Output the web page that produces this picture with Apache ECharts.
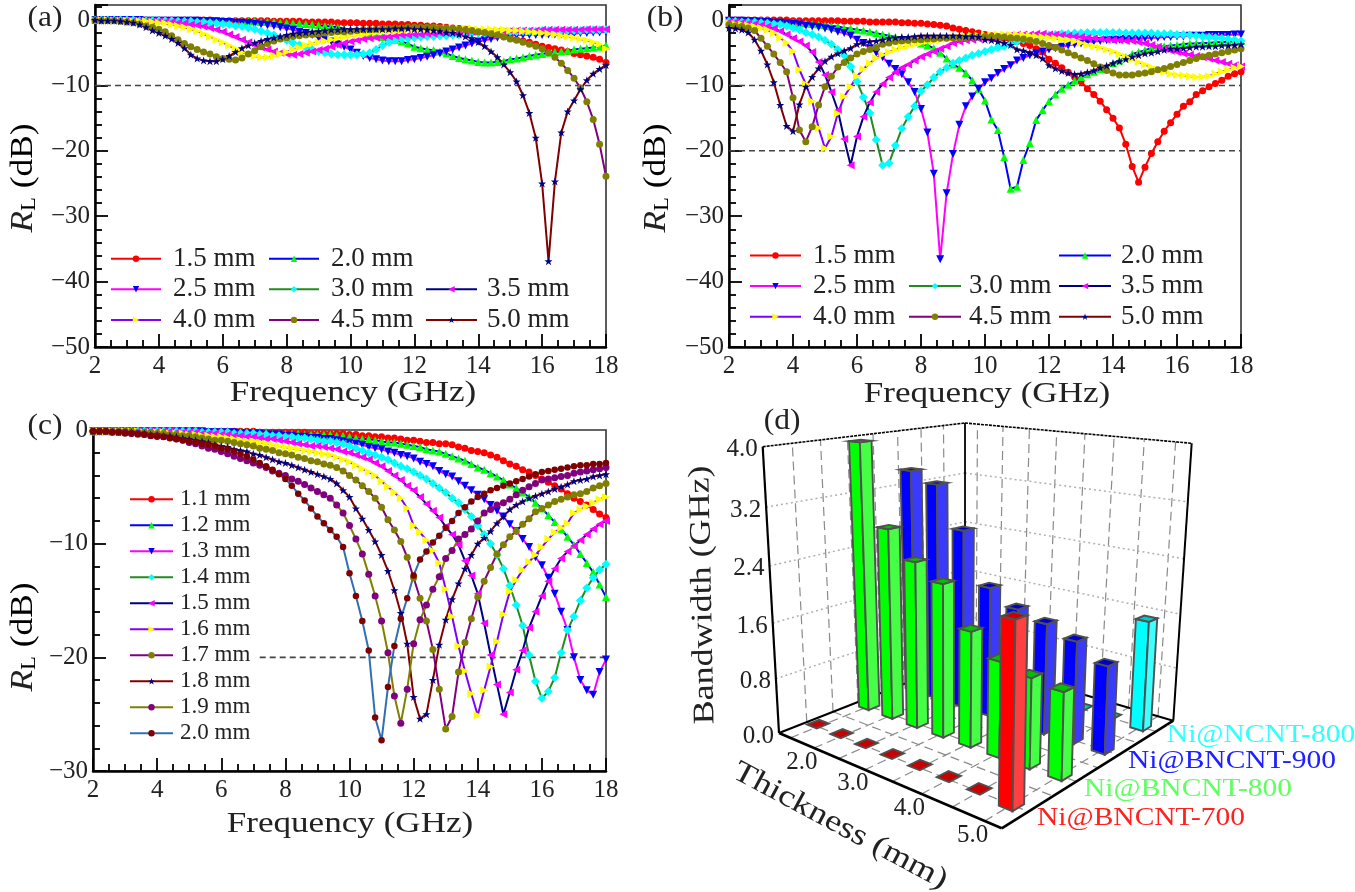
<!DOCTYPE html>
<html><head><meta charset="utf-8">
<style>html,body{margin:0;padding:0;background:#fff}#c{width:1355px;height:892px}</style>
<script src="https://cdn.jsdelivr.net/npm/echarts@6/dist/echarts.min.js"></script>
</head><body><div id="c"></div>
<script>
const freq=[2,2.2,2.4,2.6,2.8,3,3.2,3.4,3.6,3.8,4,4.2,4.4,4.6,4.8,5,5.2,5.4,5.6,5.8,6,6.2,6.4,6.6,6.8,7,7.2,7.4,7.6,7.8,8,8.2,8.4,8.6,8.8,9,9.2,9.4,9.6,9.8,10,10.2,10.4,10.6,10.8,11,11.2,11.4,11.6,11.8,12,12.2,12.4,12.6,12.8,13,13.2,13.4,13.6,13.8,14,14.2,14.4,14.6,14.8,15,15.2,15.4,15.6,15.8,16,16.2,16.4,16.6,16.8,17,17.2,17.4,17.6,17.8,18];
// Panel (a)
const a15=[0,0,0,0,0, 0,0,0,0,0, 0,0,0,0,0, 0,0,0,0,-.1, -.1,-.1,-.1,-.1,-.1, -.1,-.1,-.1,-.2,-.2, -.2,-.2,-.2,-.3,-.3, -.3,-.3,-.3,-.4,-.4, -.4,-.4,-.5,-.5,-.5, -.6,-.6,-.6,-.7,-.7, -.8,-.8,-.9,-.9,-1, -1.1,-1.2,-1.3,-1.4,-1.6, -1.8,-1.9,-2.1,-2.3,-2.5, -2.8,-3,-3.2,-3.4,-3.7, -4,-4.2,-4.4,-4.6,-4.8, -5.1,-5.3,-5.5,-5.7,-6, -6.5];
const a20=[0,0,0,0,0, 0,0,0,0,0, 0,0,0,0,-.1, -.1,-.1,-.1,-.1,-.1, -.1,-.1,-.2,-.2,-.2, -.2,-.3,-.3,-.3,-.4, -.4,-.5,-.5,-.6,-.7, -.8,-.9,-1,-1.1,-1.3, -1.5,-1.7,-1.9,-2.1,-2.4, -2.6,-2.8,-3,-3.3,-3.6, -4.1,-4.3,-4.5,-4.6,-4.8, -5.1,-5.5,-5.8,-6,-6.2, -6.4,-6.5,-6.5,-6.4,-6.3, -6,-5.9,-5.7,-5.5,-5.3, -5.2,-5,-4.9,-4.8,-4.7, -4.5,-4.4,-4.3,-4.2,-4.1, -3.9];
const a25=[0,0,0,0,0, 0,0,0,-.1,-.1, -.1,-.1,-.1,-.1,-.1, -.1,-.1,-.2,-.2,-.2, -.3,-.3,-.4,-.4,-.5, -.6,-.7,-.8,-.9,-1.1, -1.3,-1.5,-1.8,-2,-2.3, -2.7,-3,-3.3,-3.7,-4.1, -4.5,-5,-5.5,-5.8,-6, -6.2,-6.3,-6.3,-6.3,-6.1, -6,-5.8,-5.6,-5.4,-5.1, -4.8,-4.5,-4.2,-3.9,-3.6, -3.3,-3.1,-2.9,-2.7,-2.5, -2.4,-2.3,-2.3,-2.3,-2.3, -2.3,-2.2,-2.2,-2.2,-2.1, -2.1,-2,-2,-1.9,-1.9, -1.8];
const a30=[0,0,0,0,0, 0,0,-.1,-.1,-.1, -.1,-.1,-.1,-.2,-.2, -.2,-.3,-.3,-.4,-.5, -.6,-.7,-.9,-1,-1.2, -1.4,-1.7,-2,-2.3,-2.7, -3.1,-3.5,-3.8,-4.2,-4.5, -4.8,-5,-5.2,-5.3,-5.3, -5.3,-5.3,-5.2,-5,-4.5, -3.9,-3.4,-3.1,-2.9,-2.8, -2.7,-2.6,-2.5,-2.5,-2.4, -2.4,-2.3,-2.3,-2.2,-2.1, -2,-2,-1.9,-1.9,-1.8, -1.8,-1.8,-1.7,-1.7,-1.7, -1.6,-1.6,-1.6,-1.6,-1.6, -1.6,-1.6,-1.5,-1.5,-1.5, -1.5];
const a35=[0,0,0,0,-.1, -.1,-.1,-.1,-.1,-.2, -.2,-.3,-.3,-.4,-.5, -.7,-.8,-1,-1.2,-1.5, -1.8,-2.2,-2.6,-3,-3.4, -3.8,-4.2,-4.5,-4.8,-5, -5.2,-5.3,-5.2,-5,-4.8, -4.6,-4.4,-4.1,-3.8,-3.5, -3.3,-3.1,-2.9,-2.8,-2.7, -2.6,-2.5,-2.4,-2.3,-2.3, -2.2,-2.2,-2.1,-2.1,-2, -2,-1.9,-1.9,-1.8,-1.8, -1.7,-1.7,-1.7,-1.7,-1.7, -1.6,-1.6,-1.6,-1.6,-1.6, -1.5,-1.5,-1.5,-1.5,-1.5, -1.5,-1.5,-1.4,-1.4,-1.4, -1.4];
const a40=[0,0,0,-.1,-.1, -.1,-.2,-.2,-.2,-.3, -.4,-.5,-.7,-.9,-1.1, -1.4,-1.7,-2.1,-2.5,-3, -3.4,-3.9,-4.4,-4.9,-5.2, -5.5,-5.7,-5.7,-5.5,-5.2, -4.9,-4.5,-4.2,-3.9,-3.6, -3.4,-3.2,-3,-2.8,-2.6, -2.4,-2.3,-2.2,-2,-1.9, -1.8,-1.7,-1.7,-1.6,-1.5, -1.5,-1.4,-1.4,-1.4,-1.3, -1.3,-1.3,-1.3,-1.3,-1.3, -1.4,-1.4,-1.4,-1.5,-1.5, -1.6,-1.6,-1.7,-1.8,-1.9, -2,-2.1,-2.2,-2.4,-2.5, -2.7,-2.9,-3.1,-3.4,-3.7, -4.4];
const a45=[0,-.1,-.1,-.1,-.2, -.3,-.4,-.6,-.9,-1.1, -1.4,-1.8,-2.4,-3,-3.6, -4.1,-4.5,-4.9,-5.2,-5.6, -5.9,-6,-6.1,-5.8,-5.2, -4.7,-4.1,-3.6,-3.2,-2.9, -2.7,-2.5,-2.4,-2.3,-2.2, -2.1,-2,-1.9,-1.8,-1.8, -1.7,-1.6,-1.5,-1.5,-1.4, -1.3,-1.3,-1.2,-1.2,-1.1, -1.1,-1.1,-1.1,-1.1,-1.2, -1.2,-1.3,-1.4,-1.5,-1.6, -1.8,-1.9,-2.1,-2.3,-2.6, -2.9,-3.1,-3.4,-3.7,-4, -4.4,-5,-5.7,-6.6,-7.7, -8.9,-10.4,-12.5,-15.2,-19, -23.9];
const a50=[0,-.1,-.1,-.1,-.2, -.3,-.4,-.7,-1.1,-1.6, -2,-2.4,-2.9,-3.5,-4.3, -5.3,-5.9,-6.2,-6.3,-6.3, -6,-5.5,-4.9,-4.3,-3.9, -3.5,-3.2,-2.9,-2.7,-2.5, -2.3,-2.1,-2,-1.9,-1.8, -1.7,-1.6,-1.5,-1.5,-1.4, -1.4,-1.4,-1.4,-1.4,-1.4, -1.4,-1.4,-1.3,-1.3,-1.3, -1.4,-1.4,-1.5,-1.6,-1.7, -1.9,-2,-2.2,-2.5,-2.8, -3.4,-4,-4.8,-5.7,-6.8, -8,-9.4,-11.5,-14.2,-18, -25,-36.9,-24.7,-17.2,-14, -12.3,-10.6,-9.2,-8.2,-7.5, -6.9];
// Panel (b)
const b15=[0,0,0,0,0, 0,0,0,0,0, -.1,-.1,-.1,-.1,-.1, -.1,-.1,-.1,-.2,-.2, -.2,-.2,-.3,-.3,-.3, -.3,-.3,-.4,-.4,-.5, -.5,-.6,-.7,-.8,-.9, -1.2,-1.4,-1.6,-1.8,-2, -2.2,-2.4,-2.6,-2.8,-3.1, -3.3,-3.6,-3.9,-4.4,-4.9, -6,-6.6,-7.3,-8,-8.7, -9.4,-10.5,-11.4,-12.4,-13.7, -15,-16.5,-19,-22.4,-24.8, -22.5,-20.4,-18.6,-17,-15.7, -14.4,-13.2,-12.5,-11.4,-10.8, -10.2,-9.7,-9.2,-8.6,-8.2, -7.9];
const b20=[-.1,-.1,-.1,-.1,-.2, -.2,-.2,-.3,-.3,-.4, -.4,-.5,-.5,-.6,-.7, -.8,-.9,-1,-1.2,-1.3, -1.5,-1.6,-1.8,-2,-2.2, -2.4,-2.6,-2.8,-3,-3.3, -3.6,-3.9,-4.3,-5,-5.9, -6.8,-7.3,-8.1,-9.2,-10.6, -12.3,-15.2,-16.8,-21,-25.8, -25.5,-21.4,-18.8,-15.3,-13.8, -12.4,-11.4,-10.5,-9.9,-9.3, -8.7,-8.3,-7.9,-7.5,-7.1, -6.6,-6.2,-5.7,-5.2,-4.9, -4.6,-4.3,-4.1,-4,-3.9, -3.8,-3.7,-3.6,-3.6,-3.5, -3.5,-3.4,-3.4,-3.3,-3.3, -3.2];
const b25=[-.1,-.1,-.1,-.2,-.2, -.3,-.3,-.4,-.4,-.5, -.6,-.7,-.9,-1,-1.1, -1.3,-1.5,-1.8,-2,-2.4, -3,-3.5,-4.3,-5,-5.7, -6.7,-7.5,-8.3,-9.5,-11, -13.6,-17.2,-23.5,-36.6,-26.5, -20.5,-16,-13.2,-11.7,-10.5, -9.5,-8.9,-8.1,-7.5,-6.9, -6.2,-5.8,-5.4,-5.1,-4.8, -4.5,-4.3,-4.1,-3.9,-3.7, -3.6,-3.4,-3.3,-3.2,-3.1, -3,-3,-2.9,-2.9,-2.8, -2.8,-2.7,-2.7,-2.6,-2.6, -2.5,-2.5,-2.4,-2.4,-2.4, -2.3,-2.3,-2.3,-2.3,-2.2, -2.2];
const b30=[-.2,-.2,-.3,-.3,-.3, -.4,-.5,-.6,-.7,-.9, -1.2,-1.5,-1.9,-2.2,-2.6, -3.1,-3.7,-4.5,-5.4,-7.1, -9.4,-11.8,-14.2,-18.3,-22.2, -21.9,-19.2,-16.6,-14.8,-13.2, -10.9,-9.9,-8.8,-7.9,-7.3, -6.6,-6.2,-5.8,-5.4,-5.1, -4.8,-4.5,-4.2,-4,-3.7, -3.3,-3,-2.8,-2.6,-2.4, -2.3,-2.2,-2.1,-2.1,-2, -2,-1.9,-1.9,-1.9,-1.9, -1.9,-1.9,-2,-2,-2, -2,-2,-2.1,-2.1,-2.1, -2.2,-2.2,-2.3,-2.4,-2.5, -2.6,-2.7,-2.8,-2.9,-3, -3.2];
const b35=[-.3,-.3,-.4,-.5,-.6, -.8,-1,-1.3,-1.7,-2.2, -2.8,-3.3,-3.9,-4.9,-6.4, -8.4,-11,-13.8,-18.2,-22.2, -17.8,-14.8,-12.6,-11,-9.8, -8.8,-8,-7.3,-6.8,-6.2, -5.6,-5.2,-4.8,-4.4,-4, -3.5,-3.3,-3.1,-3,-2.9, -2.7,-2.6,-2.5,-2.4,-2.3, -2.2,-2.2,-2.2,-2.1,-2.1, -2.2,-2.2,-2.3,-2.4,-2.5, -2.6,-2.7,-2.8,-2.9,-3, -3.1,-3.1,-3.2,-3.2,-3.4, -3.6,-3.8,-4.1,-4.4,-4.7, -4.9,-5.1,-5.3,-5.5,-5.7, -5.9,-6.2,-6.4,-6.7,-6.9, -7.1];
const b40=[-.5,-.6,-.7,-.8,-1, -1.2,-1.5,-2,-2.7,-3.5, -4.8,-7.6,-9.8,-12.4,-16.5, -19.6,-17.8,-14.3,-11.7,-10.2, -8.6,-7.5,-6.6,-5.8,-5.3, -4.9,-4.5,-4.2,-4,-3.7, -3.5,-3.3,-3.2,-3.1,-2.9, -2.7,-2.6,-2.5,-2.4,-2.4, -2.3,-2.3,-2.2,-2.2,-2.2, -2.2,-2.3,-2.4,-2.5,-2.6, -2.7,-2.8,-3,-3.1,-3.3, -3.5,-3.8,-4,-4.2,-4.5, -4.8,-5.2,-5.6,-6,-6.4, -6.8,-7.2,-7.6,-7.9,-8.2, -8.4,-8.5,-8.6,-8.7,-8.7, -8.6,-8.2,-7.9,-7.6,-7.3, -7.1];
const b45=[-.7,-.9,-1,-1.2,-1.6, -2.8,-4,-5.2,-6.5,-7.9, -11.9,-16.8,-18.6,-16.3,-13, -10.2,-8.6,-7.2,-6.5,-5.8, -5.2,-4.8,-4.5,-4.2,-3.7, -3.5,-3.3,-3.2,-3.1,-3, -3,-2.9,-2.9,-2.8,-2.8, -2.7,-2.7,-2.7,-2.6,-2.6, -2.5,-2.5,-2.5,-2.6,-2.7, -2.8,-2.9,-3.1,-3.3,-3.6, -3.9,-4.2,-4.6,-5,-5.4, -5.8,-6.2,-6.7,-7.2,-7.7, -8.1,-8.4,-8.4,-8.4,-8.2, -8.1,-7.9,-7.6,-7.4,-7.1, -6.8,-6.5,-6.2,-5.9,-5.6, -5.4,-5.2,-5,-4.8,-4.6, -4.4];
const b50=[-1.2,-1.3,-1.5,-1.9,-3, -4.7,-6.8,-9.5,-13,-16.2, -17,-12.9,-10.2,-8.7,-7.4, -6.3,-5.6,-5.1,-4.7,-4.3, -3.7,-3.5,-3.3,-3.2,-3, -2.8,-2.7,-2.6,-2.6,-2.5, -2.4,-2.4,-2.4,-2.4,-2.4, -2.4,-2.4,-2.5,-2.5,-2.6, -3,-3.1,-3.3,-3.5,-3.8, -4.5,-4.7,-5,-5.4,-5.9, -6.9,-7.4,-7.8,-8.1,-8.3, -8.2,-8,-7.7,-7.3,-7, -6.6,-6.3,-6,-5.6,-5.4, -5.1,-5,-4.8,-4.6,-4.4, -4.4,-4.3,-4.2,-4.1,-4.1, -4,-4,-3.9,-3.9,-3.8, -3.7];
// Panel (c)
const c11=[-.1,-.1,-.1,-.1,-.1, -.1,-.1,-.1,-.1,-.1, -.1,-.1,-.1,-.1,-.1, -.1,-.1,-.1,-.1,-.1, -.1,-.1,-.1,-.1,-.1, -.1,-.2,-.2,-.2,-.2, -.2,-.2,-.2,-.2,-.3, -.3,-.3,-.3,-.3,-.3, -.4,-.4,-.5,-.5,-.6, -.6,-.7,-.7,-.8,-.9, -.9,-1,-1.1,-1.1,-1.2, -1.2,-1.3,-1.5,-1.6,-1.8, -1.9,-2,-2.2,-2.4,-2.7, -3,-3.2,-3.5,-3.7,-4, -4.3,-4.6,-4.9,-5.2,-5.6, -6,-6.3,-6.6,-7,-7.4, -7.7];
const c12=[-.1,-.1,-.1,-.1,-.1, -.1,-.1,-.1,-.1,-.1, -.1,-.1,-.1,-.1,-.1, -.1,-.1,-.1,-.1,-.1, -.1,-.1,-.2,-.2,-.2, -.2,-.2,-.2,-.3,-.3, -.3,-.3,-.3,-.4,-.4, -.4,-.4,-.4,-.5,-.5, -.6,-.7,-.8,-.8,-.9, -1,-1.1,-1.1,-1.2,-1.3, -1.4,-1.5,-1.7,-1.8,-1.9, -2.1,-2.3,-2.5,-2.7,-3, -3.3,-3.5,-3.8,-4.1,-4.4, -4.8,-5.1,-5.5,-5.9,-6.4, -6.9,-7.5,-8.1,-8.7,-9.4, -10.1,-10.9,-11.7,-12.5,-13.6, -14.7];
const c13=[-.1,-.1,-.1,-.1,-.1, -.1,-.1,-.1,-.1,-.1, -.1,-.1,-.1,-.1,-.1, -.1,-.1,-.1,-.2,-.2, -.2,-.2,-.2,-.3,-.3, -.3,-.3,-.4,-.4,-.4, -.5,-.5,-.6,-.6,-.7, -.7,-.8,-.8,-.9,-1, -1.1,-1.2,-1.3,-1.5,-1.6, -1.7,-1.9,-2,-2.2,-2.3, -2.5,-2.8,-3,-3.2,-3.6, -3.9,-4.1,-4.5,-4.9,-5.3, -5.7,-6.1,-6.6,-7.1,-7.6, -8.3,-8.9,-9.6,-10.3,-11.2, -11.9,-13,-14.4,-16,-17.6, -20,-22,-22.9,-23.3,-21.3, -20.2];
const c14=[-.1,-.1,-.1,-.1,-.1, -.1,-.1,-.1,-.1,-.1, -.1,-.1,-.1,-.1,-.1, -.1,-.1,-.2,-.2,-.2, -.2,-.2,-.3,-.3,-.3, -.3,-.4,-.4,-.5,-.5, -.6,-.6,-.7,-.7,-.8, -.9,-1,-1,-1.1,-1.2, -1.4,-1.6,-1.8,-2,-2.2, -2.4,-2.6,-2.9,-3.2,-3.4, -3.7,-4,-4.3,-4.7,-5.1, -5.5,-6,-6.4,-7,-7.6, -8.4,-9.2,-10,-11,-12.2, -13.7,-15.4,-17.2,-19.8,-22.1, -23.6,-23,-21.8,-19.6,-17.6, -16.4,-15,-13.9,-13,-12.3, -11.8];
const c15=[-.1,-.1,-.1,-.1,-.1, -.1,-.1,-.1,-.1,-.1, -.1,-.1,-.1,-.2,-.2, -.2,-.2,-.3,-.3,-.3, -.4,-.4,-.5,-.5,-.6, -.6,-.7,-.8,-.8,-.9, -1,-1.1,-1.2,-1.3,-1.4, -1.4,-1.5,-1.6,-1.7,-1.9, -2,-2.2,-2.4,-2.6,-2.9, -3.2,-3.6,-4,-4.4,-4.9, -5.3,-5.9,-6.5,-7.1,-7.7, -8.5,-9.2,-10.1,-11.5,-12.8, -14.4,-17,-19.8,-22.4,-25, -23.1,-21.1,-19.4,-17.4,-16, -14.6,-13.3,-12.2,-11.3,-10.7, -10.2,-9.7,-9.2,-8.7,-8.3, -8];
const c16=[-.1,-.1,-.1,-.1,-.1, -.1,-.1,-.1,-.2,-.2, -.2,-.2,-.3,-.3,-.3, -.4,-.4,-.5,-.5,-.6, -.6,-.7,-.8,-.9,-1, -1,-1.1,-1.2,-1.3,-1.4, -1.5,-1.6,-1.7,-1.8,-1.9, -2,-2.1,-2.2,-2.4,-2.6, -2.8,-3.1,-3.4,-3.7,-4, -4.5,-5,-5.5,-6,-6.9, -8.4,-9,-9.7,-10.6,-11.7, -14,-16.4,-19,-21.2,-23.2, -25.1,-22.9,-20.8,-18.6,-16.2, -14.2,-13.2,-12.3,-11.6,-11, -10.3,-9.6,-9,-8.6,-8.2, -7.3,-7,-6.7,-6.4,-6.1, -5.9];
const c17=[-.1,-.1,-.1,-.1,-.1, -.1,-.1,-.2,-.2,-.2, -.3,-.3,-.4,-.4,-.5, -.5,-.6,-.7,-.8,-.9, -.9,-1,-1.1,-1.2,-1.3, -1.4,-1.6,-1.7,-1.8,-2, -2.1,-2.2,-2.4,-2.5,-2.7, -2.8,-3,-3.1,-3.3,-3.6, -4,-4.4,-4.9,-5.4,-6, -6.8,-7.9,-8.8,-9.8,-11.2, -13,-14.8,-16.8,-19.3,-22.8, -26.3,-25.2,-21.3,-18.7,-16.6, -14.7,-13.3,-12.1,-10.9,-10.1, -9.4,-8.9,-8.3,-7.8,-7.2, -6.9,-6.6,-6.3,-6.1,-5.9, -5.7,-5.6,-5.4,-5.1,-4.9, -4.7];
const c18=[-.1,-.1,-.1,-.1,-.2, -.2,-.2,-.3,-.3,-.4, -.4,-.5,-.5,-.6,-.7, -.8,-.9,-1,-1.1,-1.3, -1.4,-1.5,-1.7,-1.8,-1.9, -2.1,-2.2,-2.4,-2.6,-2.8, -2.9,-3.1,-3.3,-3.5,-3.7, -3.9,-4.1,-4.3,-4.7,-5.3, -5.9,-6.9,-7.8,-8.8,-9.8, -11,-12.4,-14.1,-16.1,-18.8, -23.5,-25.4,-25,-22,-18.9, -16.7,-14.9,-13.5,-12.2,-11, -10,-9.5,-8.9,-8.2,-7.6, -7,-6.6,-6.3,-6,-5.8, -5.6,-5.4,-5.2,-5,-4.8, -4.5,-4.4,-4.3,-4.1,-4, -3.9];
const c19=[-.1,-.1,-.1,-.2,-.2, -.2,-.3,-.3,-.4,-.5, -.5,-.6,-.7,-.8,-.9, -1.1,-1.2,-1.4,-1.6,-1.7, -1.9,-2.1,-2.3,-2.5,-2.7, -2.9,-3.1,-3.3,-3.6,-3.8, -4,-4.3,-4.5,-4.8,-5.1, -5.4,-5.7,-6,-6.6,-7.3, -8.4,-9.6,-10.9,-12.7,-14.6, -16.8,-19.6,-23.4,-25.8,-22.8, -18.8,-16.7,-15.4,-14,-12.9, -11.3,-10.6,-9.6,-9.2,-8.7, -8,-7.3,-7,-6.6,-6.4, -6.1,-5.7,-5.3,-5,-4.7, -4.4,-4.3,-4.2,-4.1,-4, -3.8,-3.7,-3.6,-3.5,-3.4, -3.3];
const c20=[-.1,-.1,-.1,-.2,-.2, -.3,-.3,-.4,-.4,-.5, -.6,-.6,-.7,-.8,-.9, -1,-1.1,-1.2,-1.3,-1.4, -1.6,-1.7,-1.9,-2.1,-2.3, -2.6,-2.9,-3.2,-3.5,-3.9, -4.3,-4.9,-5.6,-6.2,-6.9, -7.6,-8.2,-8.8,-9.4,-10.3, -12.6,-14.6,-16.8,-19.4,-25.3, -27.3,-22.6,-19,-16.6,-14.8, -12.8,-11.4,-10.7,-9.9,-9.3, -8.6,-8,-7.3,-6.8,-6.3, -5.9,-5.6,-5.3,-5.1,-4.9, -4.7,-4.5,-4.3,-4.1,-3.9, -3.7,-3.6,-3.5,-3.4,-3.3, -3.2,-3.1,-3.1,-3,-3, -2.9];
// Reference lines
const refA=[[2,-10],[18,-10]];
const refB1=[[2,-10],[18,-10]];
const refB2=[[2,-20],[18,-20]];
const refC=[[7.2,-20],[18,-20]];
// Panel (d): bandwidth in GHz per thickness slot
const thicknessSlots=['1.5','2.0','2.5','3.0','3.5','4.0','4.5','5.0'];
const thicknessTicks=['2.0','3.0','4.0','5.0'];
const heightTicks=[0,0.8,1.6,2.4,3.2,4.0];
const bw700=[0,0,0,0,0,0,0,2.32];
const bw800=[3.96,2.8,2.41,2.19,1.63,1.33,1.23,1.17];
const bw900=[3.45,3.3,2.69,1.93,1.71,1.6,1.46,1.23];
const bwNCNT=[0,0,0,0,0,0,0,1.6];
const sampleNames=['Ni@NCNT-800','Ni@BNCNT-900','Ni@BNCNT-800','Ni@BNCNT-700'];

[freq,a15,a20,a25,a30,a35,a40,a45,a50,b15,b20,b25,b30,b35,b40,b45,b50,c11,c12,c13,c14,c15,c16,c17,c18,c19,c20].forEach((r,i)=>{if(r.length!==81)throw new Error('len '+i+' '+r.length)});

const SERIF='"Liberation Serif"';
const STAR='path://M12 0 L15 9 L24 9 L17 15 L20 24 L12 18 L4 24 L7 15 L0 9 L9 9 Z';
const styles=[
 {line:'#ff0000',mark:'#ff0000',sym:'circle',rot:0,size:7},
 {line:'#0000ff',mark:'#00ff00',sym:'triangle',rot:0,size:8},
 {line:'#ff00ff',mark:'#0000ff',sym:'triangle',rot:180,size:8},
 {line:'#228b22',mark:'#00ffff',sym:'diamond',rot:0,size:9},
 {line:'#000080',mark:'#ff00ff',sym:'triangle',rot:90,size:8},
 {line:'#8000ff',mark:'#ffff00',sym:'triangle',rot:-90,size:8},
 {line:'#800080',mark:'#808000',sym:'circle',rot:0,size:7},
 {line:'#800000',mark:'#000080',sym:STAR,rot:0,size:8},
 {line:'#808000',mark:'#800080',sym:'circle',rot:0,size:7},
 {line:'#3070b0',mark:'#800000',sym:'circle',rot:0,size:6.5}
];
function lineSeries(name,ys,st,idx){
 return {type:'line',name,xAxisIndex:idx,yAxisIndex:idx,data:freq.map((x,i)=>[x,ys[i]]),
  symbol:st.sym,symbolRotate:st.rot,symbolSize:st.size,showSymbol:true,showAllSymbol:true,
  lineStyle:{color:st.line,width:2},itemStyle:{color:st.mark,borderWidth:0},clip:false,silent:true,animation:false};
}
function refSeries(d,idx){
 return {type:'line',data:d,xAxisIndex:idx,yAxisIndex:idx,symbol:'none',silent:true,animation:false,
  lineStyle:{color:'#444',width:1.6,type:[6,4]}};
}
const fmtY=v=>v>0?'':(v<0?'\u2212'+(-v):'0');
function xAx(i){return {gridIndex:i,type:'value',min:2,max:18,interval:2,
  axisLine:{show:true,onZero:false,lineStyle:{color:'#000',width:2.5}},
  axisTick:{show:true,inside:true,length:13,lineStyle:{color:'#000',width:1.8}},
  minorTick:{show:true,splitNumber:4,length:7,lineStyle:{color:'#000',width:1.8}},
  splitLine:{show:false},minorSplitLine:{show:false},
  axisLabel:{fontFamily:SERIF,fontSize:25,color:'#222',margin:7,showMinLabel:true,showMaxLabel:true,hideOverlap:false}};}
function yAx(i,min,max){return {gridIndex:i,type:'value',min,max,interval:10,
  axisLine:{show:true,onZero:false,lineStyle:{color:'#000',width:2.5}},
  axisTick:{show:true,inside:true,length:13,lineStyle:{color:'#000',width:1.8}},
  minorTick:{show:true,splitNumber:5,length:7,lineStyle:{color:'#000',width:1.8}},
  splitLine:{show:false},minorSplitLine:{show:false},
  axisLabel:{fontFamily:SERIF,fontSize:25,color:'#222',margin:5,formatter:fmtY,hideOverlap:false}};}
function legend(names,left,top,fs,w,gap,tg){return {orient:'vertical',data:names,left,top,padding:0,itemWidth:w,itemHeight:8,itemGap:gap,
  selectedMode:false,textStyle:{fontFamily:SERIF,fontSize:fs,lineHeight:fs,color:'#222',padding:[0,0,0,tg]}};}

// ---------- panel (d) projection ----------
function homog(p0,p1,p2,p3){
 const dx1=p1[0]-p2[0],dx2=p3[0]-p2[0],sx=p0[0]-p1[0]+p2[0]-p3[0];
 const dy1=p1[1]-p2[1],dy2=p3[1]-p2[1],sy=p0[1]-p1[1]+p2[1]-p3[1];
 const den=dx1*dy2-dx2*dy1,g=(sx*dy2-dx2*sy)/den,h=(dx1*sy-sx*dy1)/den;
 const a=p1[0]-p0[0]+g*p1[0],b=p3[0]-p0[0]+h*p3[0],c=p0[0];
 const d=p1[1]-p0[1]+g*p1[1],e=p3[1]-p0[1]+h*p3[1],f=p0[1];
 return (u,v)=>{const q=g*u+h*v+1;return [(a*u+b*v+c)/q,(d*u+e*v+f)/q];};
}
const floorH=homog([779,733],[1001.7,828.3],[1173.3,720.7],[965,660]);
const roofH=homog([762.7,446.7],[1006.3,476],[1191.7,443.3],[965,423]);
function proj(u,v,val){
 const w=val/4,f=w/(w+(1-w)*1.07),a=floorH(u,v),b=roofH(u,v);
 return [a[0]+(b[0]-a[0])*f,a[1]+(b[1]-a[1])*f];
}
const colU=i=>(i+.5)/8, rowV=j=>(j+.5)/4;
function frameItem(params,api){
 const P=(u,v,val)=>api.coord(proj(u,v,val));
 const ln=(p,q,stroke,lw,dash)=>({type:'line',shape:{x1:p[0],y1:p[1],x2:q[0],y2:q[1]},style:{stroke,lineWidth:lw,lineDash:dash||null,fill:null}});
 const ch=[];
 const dashC='#8a8a8a',dotC='#b0b0b0';
 for(let k=1;k<8;k++){
  ch.push(ln(P(0,k/8,0),P(0,k/8,4),dashC,1.2,[9,5]));
  ch.push(ln(P(0,k/8,0),P(1,k/8,0),dashC,1.2,[9,5]));
 }
 for(let i=0;i<8;i++){
  ch.push(ln(P(colU(i),1,0),P(colU(i),1,4),dashC,1.2,[9,5]));
  ch.push(ln(P(colU(i),0,0),P(colU(i),1,0),dashC,1.2,[9,5]));
 }
 heightTicks.slice(1,5).forEach(t=>{
  ch.push(ln(P(0,0,t),P(0,1,t),dotC,1.5,[2,3]));
  ch.push(ln(P(0,1,t),P(1,1,t),dotC,1.5,[2,3]));
 });
 ch.push(ln(P(0,0,0),P(0,1,0),'#000',2));
 ch.push(ln(P(0,1,0),P(1,1,0),'#000',2));
 ch.push(ln(P(0,1,0),P(0,1,4),'#000',1.8));
 ch.push(ln(P(0,0,4),P(0,1,4),'#000',1.6,[3,1]));
 ch.push(ln(P(0,1,4),P(1,1,4),'#000',1.6,[3,1]));
 ch.push(ln(P(0,0,0),P(0,0,4),'#000',2.2));
 ch.push(ln(P(1,1,0),P(1,1,4),'#000',2));
 ch.push(ln(P(0,0,0),P(1,0,0),'#000',2.6));
 ch.push(ln(P(1,0,0),P(1,1,0),'#000',2.6));
 const txt=(p,text,al)=>({type:'text',x:p[0],y:p[1],style:{text,fill:'#222',font:'25px '+SERIF,align:al,textAlign:al,verticalAlign:'middle',textVerticalAlign:'middle'}});
 heightTicks.forEach(t=>{const p=P(0,0,t);ch.push(txt([p[0]-5,p[1]+3],t.toFixed(1),'right'));});
 thicknessTicks.forEach(t=>{const p=P(colU(thicknessSlots.indexOf(t)),0,0);ch.push(txt([p[0]-12,p[1]+14],t,'center'));});
 return {type:'group',children:ch};
}
function barSeries(vals,row,c){
 return {type:'custom',xAxisIndex:3,yAxisIndex:3,silent:true,animation:false,clip:false,
  data:vals.map((v,i)=>[i,v]),encode:{x:0,y:1},
  renderItem(params,api){
   const i=api.value(0),val=Math.max(api.value(1),0.04),u=colU(i),v=rowV(row),du=.026,dv=.028;
   const P=(a,b,h)=>api.coord(proj(a,b,h));
   const s={stroke:'#505050',lineWidth:1.9};
   const poly=(pts,fill)=>({type:'polygon',shape:{points:pts},style:Object.assign({fill},s)});
   const ch=[];
   if(api.value(1)>0.04){
    ch.push(poly([P(u-du,v-dv,0),P(u+du,v-dv,0),P(u+du,v-dv,val),P(u-du,v-dv,val)],c[0]));
    ch.push(poly([P(u+du,v-dv,0),P(u+du,v+dv,0),P(u+du,v+dv,val),P(u+du,v-dv,val)],c[1]));
   }
   ch.push(poly([P(u-du,v-dv,val),P(u+du,v-dv,val),P(u+du,v+dv,val),P(u-du,v+dv,val)],c[2]));
   return {type:'group',children:ch};
  }};
}

const namesA=['1.5 mm','2.0 mm','2.5 mm','3.0 mm','3.5 mm','4.0 mm','4.5 mm','5.0 mm'];
const namesC=['1.1 mm','1.2 mm','1.3 mm','1.4 mm','1.5 mm ','1.6 mm','1.7 mm','1.8 mm','1.9 mm','2.0 mm '];
const seriesA=[a15,a20,a25,a30,a35,a40,a45,a50];
const seriesB=[b15,b20,b25,b30,b35,b40,b45,b50];
const seriesC=[c11,c12,c13,c14,c15,c16,c17,c18,c19,c20];

const series=[refSeries(refA,0),refSeries(refB1,1),refSeries(refB2,1),refSeries(refC,2)];
seriesA.forEach((d,i)=>series.push(lineSeries(namesA[i],d,styles[i],0)));
seriesB.forEach((d,i)=>series.push(lineSeries(namesA[i],d,styles[i],1)));
seriesC.forEach((d,i)=>series.push(lineSeries(namesC[i],d,styles[i],2)));
series.push({type:'custom',xAxisIndex:3,yAxisIndex:3,silent:true,animation:false,clip:false,data:[[800,500]],encode:{x:0,y:1},renderItem:frameItem});
series.push(barSeries(bwNCNT,3,['#00ffff','#40ffff','#00c8c8']));
series.push(barSeries(bw900,2,['#0000ff','#3a3aff','#0000c8']));
series.push(barSeries(bw800,1,['#00ff00','#44ff44','#00c000']));
series.push(barSeries(bw700,0,['#ff0000','#ff4040','#c80000']));

function T(text,x,y,o){return Object.assign({type:'text',x,y,z:50,silent:true,
  style:Object.assign({text,fill:'#222',font:'30px '+SERIF,textAlign:'center',textVerticalAlign:'middle',align:'center',verticalAlign:'middle'},(o&&o.style)||{})},o&&o.t||{});}
const rlRich={r:{fontFamily:SERIF,fontStyle:'italic',fontSize:31,fill:'#222',color:'#222'},
  s:{fontFamily:SERIF,fontSize:20,color:'#222',padding:[12,0,0,0]},
  n:{fontFamily:SERIF,fontSize:31,color:'#222'}};
const RLT=(x,y)=>({type:'text',x,y,z:50,silent:true,rotation:Math.PI/2,scaleX:1.14,style:{text:'{r|R}{s|L}{n| (dB)}',rich:rlRich,align:'center',textAlign:'center',verticalAlign:'middle',textVerticalAlign:'middle'}});
const big={scaleX:1.17};
const sampleY=[735,761,789,818],sampleX=[1261,1232,1188,1141],sampleC=['#30ffff','#2020ff','#60ff60','#ff2020'];
const graphic=[
 T('(a)',45,18,{t:{scaleX:1.05}}),T('(b)',665,18,{t:{scaleX:1.05}}),T('(c)',45,426,{t:{scaleX:1.05}}),T('(d)',782,421,{t:{scaleX:1.05}}),
 T('Frequency (GHz)',353,393,{t:big}),T('Frequency (GHz)',987,394,{t:big}),T('Frequency (GHz)',350,824,{t:big}),
 RLT(24,178),RLT(657,178),RLT(24,637),
 T('Bandwidth (GHz)',703,595,{t:{rotation:Math.PI/2+0.02,scaleX:1.2}}),
 T('Thickness (mm)',840,826,{t:{rotation:-0.49,scaleX:1.22}})
].concat(sampleNames.map((n,i)=>T(n,sampleX[i],sampleY[i],{t:{scaleX:1.18},style:{font:'25px '+SERIF,fill:sampleC[i]}})));

const option={animation:false,backgroundColor:'#fff',
 grid:[
  {left:95,top:5,width:511,height:342,show:true,borderColor:'#333',borderWidth:1.6,backgroundColor:'transparent'},
  {left:729,top:5,width:512,height:342,show:true,borderColor:'#333',borderWidth:1.6,backgroundColor:'transparent'},
  {left:93,top:430,width:513,height:341,show:true,borderColor:'#333',borderWidth:1.6,backgroundColor:'transparent'},
  {left:690,top:410,width:665,height:482,show:false}
 ],
 xAxis:[xAx(0),xAx(1),xAx(2),{gridIndex:3,type:'value',min:690,max:1355,show:false}],
 yAxis:[yAx(0,-50,2.3),yAx(1,-50,2.3),yAx(2,-30,0),{gridIndex:3,type:'value',min:410,max:892,inverse:true,show:false}],
 legend:[
  legend(['1.5 mm','2.5 mm','4.0 mm'],110,245.2,27,50,3.6,7),
  legend(['2.0 mm','3.0 mm','4.5 mm'],268,245.2,27,50,3.6,7),
  legend(['3.5 mm','5.0 mm'],425,275.8,27,51,3.6,5),
  legend(['1.5 mm','2.5 mm','4.0 mm'],749,242,27,51,3.6,7),
  legend(['3.0 mm','4.5 mm'],908,272.6,27,52,3.6,3),
  legend(['2.0 mm','3.5 mm','5.0 mm'],1058,242,27,52,3.6,5),
  legend(namesC,129,487.8,23,43,3,2)
 ],
 graphic:{elements:graphic},
 series
};
const chart=echarts.init(document.getElementById('c'),null,{renderer:'canvas'});
chart.setOption(option);
</script></body></html>
